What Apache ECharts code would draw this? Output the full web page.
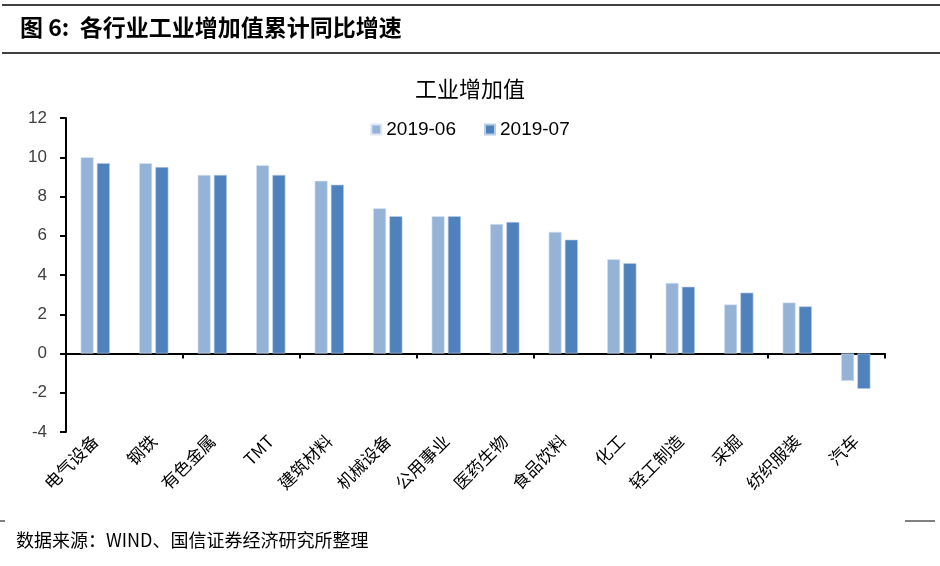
<!DOCTYPE html>
<html>
<head>
<meta charset="utf-8">
<script src="https://cdn.jsdelivr.net/npm/echarts@6/dist/echarts.min.js"></script>
<style>html,body{margin:0;padding:0;background:#fff}#c{width:940px;height:566px}</style>
</head>
<body>
<div id="c"></div>
<script>
var categories = ['电气设备','钢铁','有色金属','TMT','建筑材料','机械设备','公用事业','医药生物','食品饮料','化工','轻工制造','采掘','纺织服装','汽车'];
var seriesNames = ['2019-06','2019-07'];
var values0606 = [10.0, 9.7, 9.1, 9.6, 8.8, 7.4, 7.0, 6.6, 6.2, 4.8, 3.6, 2.5, 2.6, -1.4];
var values0707 = [9.7, 9.5, 9.1, 9.1, 8.6, 7.0, 7.0, 6.7, 5.8, 4.6, 3.4, 3.1, 2.4, -1.8];
var yMin = -4, yMax = 12, yStep = 2;

var chart = echarts.init(document.getElementById('c'), null, {renderer:'canvas'});
var cjk = '"Noto Sans CJK SC", sans-serif';
var latin = '"Liberation Sans", Arial, sans-serif';
chart.setOption({
  animation: false,
  backgroundColor: '#fff',
  title: {
    text: '工业增加值', left: 'center', top: 73,
    textStyle: {fontFamily: cjk, fontSize: 22, fontWeight: 'normal', color: '#000'}
  },
  legend: {
    data: seriesNames, top: 115, left: 'center',
    itemWidth: 10, itemHeight: 10, itemGap: 28, icon: 'rect',
    textStyle: {fontFamily: latin, fontSize: 19, color: '#000'}
  },
  grid: {left: 66, right: 55, top: 118, bottom: 134, containLabel: false},
  xAxis: [{
    type: 'category', data: categories, position: 'bottom',
    axisLine: {show: false, onZero: false}, axisTick: {show: false},
    axisLabel: {rotate: 45, interval: 0, margin: 6, fontFamily: cjk, fontSize: 17, color: '#000'}
  }, {
    type: 'category', data: categories, position: 'bottom',
    axisLine: {show: true, onZero: true, lineStyle: {color: '#000', width: 2}},
    axisTick: {show: true, length: 5, lineStyle: {color: '#000', width: 2}},
    axisLabel: {show: false}
  }],
  yAxis: {
    type: 'value', min: yMin, max: yMax, interval: yStep,
    axisLine: {show: true, lineStyle: {color: '#000', width: 2}},
    axisTick: {show: true, length: 6, lineStyle: {color: '#000', width: 2}},
    splitLine: {show: false},
    axisLabel: {margin: 19, fontFamily: latin, fontSize: 17, color: '#404040'}
  },
  series: [{
    name: seriesNames[0], type: 'bar', data: values0606, xAxisIndex: 0,
    barWidth: 13, barGap: '25%',
    itemStyle: {color: '#95B3D7', borderColor: '#DCE6F2', borderWidth: 0.6}
  }, {
    name: seriesNames[1], type: 'bar', data: values0707, xAxisIndex: 0,
    barWidth: 13, barGap: '25%',
    itemStyle: {color: '#4F81BD', borderColor: '#B9CDE5', borderWidth: 0.6}
  }],
  graphic: [
    {type: 'line', shape: {x1: 2, y1: 5, x2: 940, y2: 5}, style: {stroke: '#000', lineWidth: 1.5}},
    {type: 'text', left: 20, top: 16, style: {text: '图 6:  各行业工业增加值累计同比增速', font: 'bold 23px "Noto Sans CJK SC", sans-serif', fill: '#000'}},
    {type: 'line', shape: {x1: 2, y1: 53, x2: 940, y2: 53}, style: {stroke: '#000', lineWidth: 1.5}},
    {type: 'line', shape: {x1: 0, y1: 521, x2: 5, y2: 521}, style: {stroke: '#000', lineWidth: 1}},
    {type: 'line', shape: {x1: 905, y1: 521, x2: 935, y2: 521}, style: {stroke: '#000', lineWidth: 1}},
    {type: 'text', left: 16, top: 531, style: {text: '数据来源：WIND、国信证券经济研究所整理', font: '18px "Noto Sans CJK SC", sans-serif', fill: '#000'}}
  ]
});
</script>
</body>
</html>
